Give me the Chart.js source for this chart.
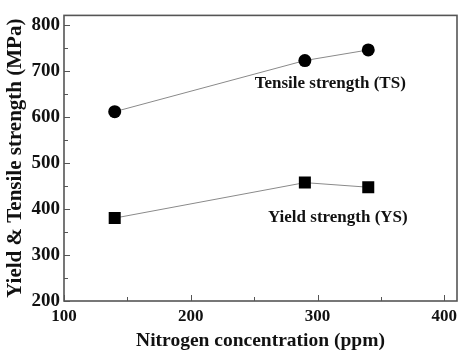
<!DOCTYPE html>
<html>
<head>
<meta charset="utf-8">
<script src="https://cdn.jsdelivr.net/npm/chart.js@4/dist/chart.umd.min.js"></script>
<style>
  html, body { margin: 0; padding: 0; background: #fff; }
  #wrap { width: 458px; height: 353px; }
</style>
</head>
<body>
<div id="wrap"><canvas id="strengthChart" width="458" height="353"></canvas></div>
<script>
// nitrogen content (ppm) and measured strengths (MPa)
const nitrogen = [140, 290, 340];
const tensileStrength = [611, 722, 745];
const yieldStrength = [380, 457, 447];

const xTicks = [100, 200, 300, 400];
const xMinorTicks = [150, 250, 350];
const yTicks = [200, 300, 400, 500, 600, 700, 800];
const yMinorTicks = [250, 350, 450, 550, 650, 750];

// series labels placed in data space
const seriesLabels = [
    { text: "Tensile strength (TS)", x: 310, y: 671 },
    { text: "Yield strength (YS)", x: 316, y: 380 },
];

const serif = "'Liberation Serif', 'Times New Roman', serif";
const frameColor = "#555";

// frame box, inward ticks and series labels
const framePlugin = {
    id: "frame",
    afterDatasetsDraw(chart) {
        const ctx = chart.ctx;
        const area = chart.chartArea;
        const xs = chart.scales.x;
        const ys = chart.scales.y;

        ctx.save();
        ctx.strokeStyle = frameColor;
        ctx.lineWidth = 1.6;
        ctx.strokeRect(area.left, area.top, area.right - area.left, area.bottom - area.top);

        ctx.lineWidth = 1;
        const tick = (list, len, vertical) => {
            list.forEach(v => {
                ctx.beginPath();
                if (vertical) {
                    const px = Math.round(xs.getPixelForValue(v)) + 0.5;
                    ctx.moveTo(px, area.bottom);
                    ctx.lineTo(px, area.bottom - len);
                } else {
                    const py = Math.round(ys.getPixelForValue(v)) + 0.5;
                    ctx.moveTo(area.left, py);
                    ctx.lineTo(area.left + len, py);
                }
                ctx.stroke();
            });
        };
        tick(xTicks, 6, true);
        tick(xMinorTicks, 4, true);
        tick(yTicks, 6, false);
        tick(yMinorTicks, 4, false);

        ctx.fillStyle = "#111";
        ctx.font = "bold 17px " + serif;
        ctx.textAlign = "center";
        ctx.textBaseline = "middle";
        seriesLabels.forEach(l => {
            ctx.fillText(l.text, xs.getPixelForValue(l.x), ys.getPixelForValue(l.y));
        });
        ctx.restore();
    }
};

new Chart(document.getElementById("strengthChart"), {
    type: "scatter",
    data: {
        datasets: [
            {
                label: "TS",
                data: nitrogen.map((n, i) => ({ x: n, y: tensileStrength[i] })),
                showLine: true,
                borderColor: "#8a8a8a",
                borderWidth: 1,
                pointStyle: "circle",
                pointRadius: 6.5,
                pointBackgroundColor: "#000",
                pointBorderColor: "#000",
                pointBorderWidth: 0,
            },
            {
                label: "YS",
                data: nitrogen.map((n, i) => ({ x: n, y: yieldStrength[i] })),
                showLine: true,
                borderColor: "#8a8a8a",
                borderWidth: 1,
                pointStyle: "rect",
                pointRadius: 8.5,
                pointBackgroundColor: "#000",
                pointBorderColor: "#000",
                pointBorderWidth: 0,
            },
        ]
    },
    options: {
        responsive: false,
        animation: false,
        layout: {
            autoPadding: false,
            padding: { top: 10, right: 1, left: 0, bottom: 0 },
        },
        plugins: {
            legend: { display: false },
            tooltip: { enabled: false },
        },
        scales: {
            x: {
                type: "linear",
                min: 100,
                max: 410,
                afterBuildTicks: scale => {
                    scale.ticks = xTicks.map(v => ({ value: v }));
                },
                afterFit: scale => {
                    scale.height = 52;
                    // let the "400" label run past the plot edge
                    scale.paddingLeft = 0;
                    scale.paddingRight = 0;
                },
                grid: { display: false, drawTicks: false },
                border: { display: false },
                ticks: {
                    color: "#111",
                    padding: 5,
                    font: { family: serif, size: 17, weight: "bold" },
                },
                title: {
                    display: true,
                    text: "Nitrogen concentration (ppm)",
                    color: "#111",
                    padding: { top: 0, bottom: 0 },
                    font: { family: serif, size: 19.5, weight: "bold" },
                },
            },
            y: {
                type: "linear",
                min: 200,
                max: 820,
                afterBuildTicks: scale => {
                    scale.ticks = yTicks.map(v => ({ value: v }));
                },
                afterFit: scale => { scale.width = 64; },
                grid: { display: false, drawTicks: false },
                border: { display: false },
                ticks: {
                    color: "#111",
                    padding: 4,
                    font: { family: serif, size: 19, weight: "bold" },
                },
                title: {
                    display: true,
                    text: "Yield & Tensile strength (MPa)",
                    color: "#111",
                    padding: { top: 2.5, bottom: 0 },
                    font: { family: serif, size: 21, weight: "bold" },
                },
            },
        }
    },
    plugins: [framePlugin]
});
</script>
</body>
</html>
